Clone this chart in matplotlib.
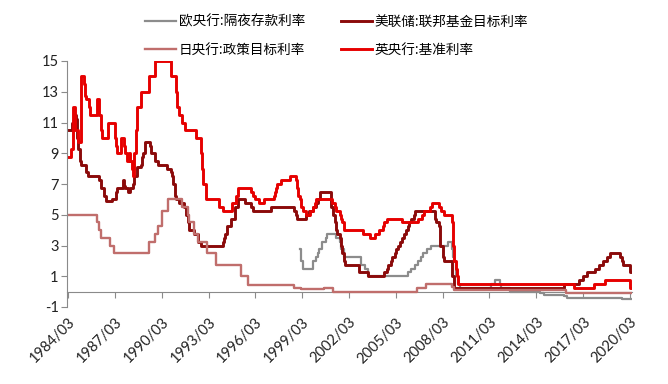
import matplotlib.pyplot as plt

# change points of each policy rate (YYYY/MM, %), drawn as step lines
ecb_dates = ['1999/01', '1999/02', '1999/04', '1999/11', '2000/02', '2000/03', '2000/04', '2000/06',
             '2000/09', '2000/10', '2001/05', '2001/08', '2001/09', '2001/11', '2002/12', '2003/03',
             '2003/06', '2005/12', '2006/03', '2006/06', '2006/08', '2006/10', '2006/12', '2007/03',
             '2007/06', '2008/07', '2008/10', '2008/11', '2008/12', '2009/01', '2009/03', '2009/04',
             '2011/04', '2011/07', '2011/11', '2011/12', '2012/07', '2014/06', '2014/09', '2015/12',
             '2016/03', '2019/09']
ecb_rates = [2.75, 2.0, 1.5, 2.0, 2.25, 2.5, 2.75, 3.25,
             3.5, 3.75, 3.5, 3.25, 2.75, 2.25, 1.75, 1.5,
             1.0, 1.25, 1.5, 1.75, 2.0, 2.25, 2.5, 2.75,
             3.0, 3.25, 2.75, 2.25, 2.0, 1.0, 0.5, 0.25,
             0.5, 0.75, 0.5, 0.25, 0.0, -0.1, -0.2, -0.3,
             -0.4, -0.5]

fed_dates = ['1984/03', '1984/06', '1984/08', '1984/09', '1984/10', '1984/11', '1984/12', '1985/01',
             '1985/05', '1985/06', '1986/03', '1986/04', '1986/07', '1986/08', '1987/01', '1987/04',
             '1987/05', '1987/09', '1987/10', '1987/11', '1988/01', '1988/03', '1988/05', '1988/06',
             '1988/08', '1988/11', '1988/12', '1989/01', '1989/02', '1989/06', '1989/07', '1989/10',
             '1989/12', '1990/07', '1990/10', '1990/11', '1990/12', '1991/01', '1991/02', '1991/04',
             '1991/08', '1991/10', '1991/11', '1991/12', '1992/04', '1992/07', '1992/09', '1994/02',
             '1994/03', '1994/04', '1994/05', '1994/08', '1994/11', '1995/02', '1995/07', '1995/12',
             '1996/01', '1997/03', '1998/09', '1998/10', '1998/11', '1999/06', '1999/08', '1999/11',
             '2000/02', '2000/03', '2000/05', '2001/01', '2001/03', '2001/04', '2001/05', '2001/06',
             '2001/08', '2001/09', '2001/10', '2001/11', '2001/12', '2002/11', '2003/06', '2004/06',
             '2004/08', '2004/09', '2004/11', '2004/12', '2005/02', '2005/03', '2005/05', '2005/06',
             '2005/08', '2005/09', '2005/11', '2005/12', '2006/01', '2006/03', '2006/05', '2006/06',
             '2007/09', '2007/10', '2007/12', '2008/01', '2008/03', '2008/04', '2008/10', '2008/12',
             '2015/12', '2016/12', '2017/03', '2017/06', '2017/12', '2018/03', '2018/06', '2018/09',
             '2018/12', '2019/07', '2019/09', '2019/10', '2020/03']
fed_rates = [10.5, 11.0, 11.5, 11.25, 10.0, 9.25, 8.5, 8.25,
             7.75, 7.5, 7.25, 6.75, 6.25, 5.875, 6.0, 6.5,
             6.75, 7.25, 6.875, 6.75, 6.5, 6.75, 7.0, 7.5,
             8.125, 8.25, 8.75, 9.0, 9.75, 9.5, 9.0, 8.5,
             8.25, 8.0, 7.75, 7.5, 7.0, 6.25, 6.0, 5.75,
             5.5, 5.0, 4.5, 4.0, 3.75, 3.25, 3.0, 3.25,
             3.5, 3.75, 4.25, 4.75, 5.5, 6.0, 5.75, 5.5,
             5.25, 5.5, 5.25, 5.0, 4.75, 5.0, 5.25, 5.5,
             5.75, 6.0, 6.5, 5.5, 5.0, 4.5, 4.0, 3.75,
             3.5, 3.0, 2.5, 2.0, 1.75, 1.25, 1.0, 1.25,
             1.5, 1.75, 2.0, 2.25, 2.5, 2.75, 3.0, 3.25,
             3.5, 3.75, 4.0, 4.25, 4.5, 4.75, 5.0, 5.25,
             4.75, 4.5, 4.25, 3.0, 2.25, 2.0, 1.0, 0.25,
             0.5, 0.75, 1.0, 1.25, 1.5, 1.75, 2.0, 2.25,
             2.5, 2.25, 2.0, 1.75, 1.25]

boj_dates = ['1984/03', '1986/01', '1986/03', '1986/04', '1986/11', '1987/02', '1989/05', '1989/10',
             '1989/12', '1990/03', '1990/08', '1991/07', '1991/11', '1991/12', '1992/04', '1992/07',
             '1993/02', '1993/09', '1995/04', '1995/09', '1998/09', '1999/02', '2000/08', '2001/03',
             '2006/07', '2007/02', '2008/10', '2008/12', '2016/02']
boj_rates = [5.0, 4.5, 4.0, 3.5, 3.0, 2.5, 3.25, 3.75,
             4.25, 5.25, 6.0, 5.5, 5.0, 4.5, 3.75, 3.25,
             2.5, 1.75, 1.0, 0.45, 0.25, 0.15, 0.25, 0.0,
             0.25, 0.5, 0.3, 0.1, -0.1]

boe_dates = ['1984/03', '1984/05', '1984/07', '1984/08', '1984/11', '1985/01', '1985/03', '1985/04',
             '1985/05', '1985/07', '1985/08', '1986/01', '1986/03', '1986/04', '1986/05', '1986/10',
             '1987/03', '1987/04', '1987/05', '1987/08', '1987/10', '1987/11', '1987/12', '1988/02',
             '1988/03', '1988/04', '1988/05', '1988/06', '1988/07', '1988/08', '1988/11', '1989/05',
             '1989/10', '1990/10', '1991/02', '1991/03', '1991/04', '1991/07', '1991/09', '1992/05',
             '1992/09', '1992/10', '1992/11', '1993/01', '1993/11', '1994/02', '1994/09', '1994/12',
             '1995/02', '1995/12', '1996/01', '1996/03', '1996/06', '1996/10', '1997/05', '1997/06',
             '1997/07', '1997/08', '1997/11', '1998/06', '1998/10', '1998/11', '1998/12', '1999/01',
             '1999/02', '1999/04', '1999/06', '1999/09', '1999/11', '2000/01', '2000/02', '2001/02',
             '2001/04', '2001/05', '2001/08', '2001/09', '2001/10', '2001/11', '2003/02', '2003/07',
             '2003/11', '2004/02', '2004/05', '2004/06', '2004/08', '2005/08', '2006/08', '2006/11',
             '2007/01', '2007/05', '2007/07', '2007/12', '2008/02', '2008/04', '2008/10', '2008/11',
             '2008/12', '2009/01', '2009/02', '2009/03', '2016/08', '2017/11', '2018/08', '2020/03']
boe_rates = [8.75, 9.25, 12.0, 10.5, 9.75, 14.0, 13.5, 12.75,
             12.5, 12.0, 11.5, 12.5, 11.5, 10.5, 10.0, 11.0,
             10.0, 9.5, 9.0, 10.0, 9.5, 9.0, 8.5, 9.0,
             8.5, 8.0, 7.5, 9.0, 10.5, 12.0, 13.0, 14.0,
             15.0, 14.0, 13.0, 12.0, 11.5, 11.0, 10.5, 10.0,
             9.0, 8.0, 7.0, 6.0, 5.5, 5.25, 5.75, 6.25,
             6.75, 6.5, 6.25, 6.0, 5.75, 6.0, 6.25, 6.5,
             6.75, 7.0, 7.25, 7.5, 7.25, 6.75, 6.25, 6.0,
             5.5, 5.25, 5.0, 5.25, 5.5, 5.75, 6.0, 5.75,
             5.5, 5.25, 5.0, 4.75, 4.5, 4.0, 3.75, 3.5,
             3.75, 4.0, 4.25, 4.5, 4.75, 4.5, 4.75, 5.0,
             5.25, 5.5, 5.75, 5.5, 5.25, 5.0, 4.5, 3.0,
             2.0, 1.5, 1.0, 0.5, 0.25, 0.5, 0.75, 0.25]

end_date = '2020/03'
tick_labels = ['1984/03', '1987/03', '1990/03', '1993/03', '1996/03', '1999/03', '2002/03',
               '2005/03', '2008/03', '2011/03', '2014/03', '2017/03', '2020/03']
y_ticks = [-1, 1, 3, 5, 7, 9, 11, 13, 15]


def to_year(d):
    y, m = d.split('/')
    return int(y) + (int(m) - 1) / 12


def step_xy(dates, rates):
    x = [to_year(d) for d in dates] + [to_year(end_date) + 1 / 12]
    y = list(rates) + [rates[-1]]
    return x, y


plt.rcParams['font.family'] = ['Lato', 'Noto Sans CJK SC', 'DejaVu Sans']
gray = '#8a8a8a'

fig = plt.figure(figsize=(6.68, 3.84), dpi=100)
ax = fig.add_axes([67 / 668, 77 / 384, 565 / 668, 246 / 384])

series = [
    ('欧央行:隔夜存款利率', ecb_dates, ecb_rates, '#8c8c8c', 1.6),
    ('美联储:联邦基金目标利率', fed_dates, fed_rates, '#8b0a0a', 2.1),
    ('日央行:政策目标利率', boj_dates, boj_rates, '#c06e6c', 1.7),
    ('英央行:基准利率', boe_dates, boe_rates, '#e60000', 2.1),
]
lines = {}
for name, d, r, c, lw in series:
    x, y = step_xy(d, r)
    lines[name], = ax.step(x, y, where='post', color=c, lw=lw, label=name)

# axis styling first: moving the spine resets tick label properties
for s in ['top', 'right']:
    ax.spines[s].set_visible(False)
ax.spines['left'].set_color(gray)
ax.spines['bottom'].set_color(gray)
ax.spines['bottom'].set_position(('data', 0))
ax.spines['bottom'].set_zorder(0)

ax.set_xlim(1984.1, 2020.3)
ax.set_ylim(-1, 15)
ax.set_yticks(y_ticks)
ax.set_yticklabels([str(v) for v in y_ticks])
ax.set_xticks([to_year(t) for t in tick_labels])
ax.set_xticklabels(tick_labels)
ax.tick_params(axis='y', direction='out', length=4, color=gray, labelsize=10.5,
               pad=2, labelcolor='#222222')
ax.tick_params(axis='x', direction='out', length=4, color=gray, labelsize=10.5,
               pad=13, labelcolor='#222222', labelrotation=45)
for lab in ax.get_xticklabels():
    lab.set_ha('right')
    lab.set_rotation_mode('anchor')

order = ['欧央行:隔夜存款利率', '日央行:政策目标利率', '美联储:联邦基金目标利率', '英央行:基准利率']
fig.legend([lines[n] for n in order], order, loc='upper left', bbox_to_anchor=(145 / 668, 0.962),
           ncol=2, frameon=False, borderpad=0, borderaxespad=0, handlelength=2.3,
           handletextpad=0.2, columnspacing=2.6, labelspacing=1.05,
           prop={'family': ['Noto Sans CJK SC'], 'size': 9.8})

fig.savefig('out.png', dpi=100)
